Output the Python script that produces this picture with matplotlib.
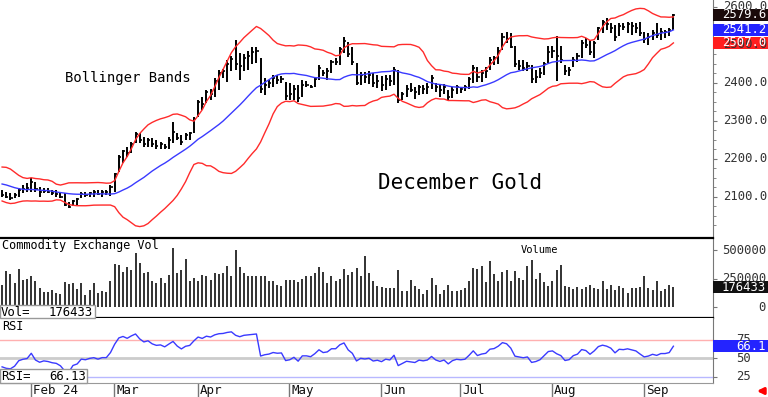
import numpy as np
import pandas as pd
import matplotlib
matplotlib.use("Agg")
import matplotlib.pyplot as plt
import matplotlib.transforms as mtransforms
from matplotlib.patches import Rectangle

plt.rcParams['font.family'] = 'DejaVu Sans Mono'

# December gold, daily bars from Jan 23 to Sep 12 2024
highs = [2118, 2114, 2110, 2110, 2123, 2132, 2136, 2149, 2140, 2127,
         2123, 2123, 2118, 2118, 2114, 2110, 2088, 2092, 2096, 2114,
         2114, 2114, 2118, 2118, 2118, 2118, 2132, 2163, 2211, 2224,
         2232, 2245, 2271, 2268, 2258, 2255, 2255, 2250, 2245, 2240,
         2258, 2297, 2268, 2262, 2268, 2271, 2310, 2355, 2363, 2382,
         2384, 2413, 2434, 2437, 2460, 2470, 2513, 2479, 2476, 2484,
         2495, 2495, 2466, 2413, 2408, 2421, 2421, 2418, 2403, 2400,
         2395, 2395, 2408, 2405, 2395, 2416, 2447, 2434, 2439, 2460,
         2466, 2495, 2521, 2508, 2495, 2453, 2428, 2428, 2430, 2425,
         2421, 2418, 2421, 2421, 2442, 2434, 2376, 2395, 2400, 2389,
         2395, 2395, 2400, 2421, 2400, 2395, 2397, 2381, 2389, 2395,
         2389, 2395, 2416, 2447, 2442, 2434, 2442, 2468, 2471, 2495,
         2530, 2535, 2531, 2496, 2461, 2461, 2456, 2447, 2434, 2439,
         2456, 2496, 2496, 2522, 2496, 2447, 2443, 2469, 2478, 2513,
         2518, 2513, 2509, 2548, 2566, 2570, 2557, 2553, 2557, 2557,
         2561, 2561, 2557, 2561, 2535, 2531, 2540, 2557, 2544, 2540,
         2544, 2580]
lows = [2101, 2096, 2092, 2096, 2101, 2110, 2114, 2114, 2114, 2101,
        2110, 2110, 2105, 2101, 2096, 2075, 2070, 2075, 2079, 2096,
        2101, 2101, 2101, 2105, 2101, 2105, 2103, 2113, 2166, 2190,
        2205, 2216, 2242, 2242, 2232, 2232, 2232, 2226, 2226, 2226,
        2226, 2242, 2250, 2237, 2250, 2250, 2268, 2310, 2329, 2347,
        2355, 2363, 2382, 2413, 2403, 2430, 2434, 2408, 2430, 2434,
        2450, 2453, 2374, 2368, 2387, 2389, 2397, 2400, 2355, 2355,
        2355, 2350, 2363, 2389, 2387, 2389, 2408, 2418, 2408, 2426,
        2447, 2447, 2479, 2468, 2448, 2395, 2395, 2400, 2397, 2390,
        2387, 2379, 2382, 2392, 2395, 2347, 2355, 2363, 2376, 2358,
        2368, 2371, 2371, 2384, 2376, 2363, 2371, 2355, 2360, 2371,
        2374, 2379, 2384, 2400, 2403, 2403, 2413, 2434, 2447, 2450,
        2487, 2504, 2491, 2443, 2434, 2430, 2430, 2399, 2399, 2412,
        2421, 2452, 2465, 2404, 2452, 2421, 2417, 2443, 2456, 2465,
        2491, 2474, 2465, 2513, 2531, 2540, 2531, 2509, 2522, 2540,
        2531, 2526, 2531, 2522, 2504, 2500, 2513, 2518, 2513, 2518,
        2522, 2540]
closes = [2106, 2100, 2098, 2104, 2118, 2122, 2124, 2140, 2120, 2112,
          2116, 2114, 2110, 2108, 2100, 2080, 2074, 2090, 2094, 2108,
          2106, 2110, 2112, 2108, 2112, 2112, 2126, 2160, 2205, 2220,
          2215, 2240, 2265, 2250, 2240, 2250, 2240, 2235, 2238, 2232,
          2250, 2270, 2255, 2245, 2262, 2268, 2305, 2350, 2345, 2375,
          2372, 2405, 2425, 2430, 2450, 2462, 2450, 2445, 2465, 2472,
          2480, 2485, 2385, 2395, 2400, 2412, 2408, 2410, 2365, 2370,
          2385, 2360, 2395, 2395, 2390, 2410, 2440, 2425, 2430, 2455,
          2455, 2490, 2510, 2475, 2455, 2400, 2420, 2415, 2420, 2400,
          2405, 2395, 2410, 2405, 2435, 2355, 2370, 2385, 2380, 2375,
          2390, 2385, 2390, 2412, 2390, 2380, 2388, 2362, 2380, 2388,
          2385, 2388, 2410, 2440, 2415, 2425, 2430, 2460, 2465, 2485,
          2520, 2515, 2495, 2450, 2445, 2440, 2445, 2410, 2415, 2425,
          2450, 2480, 2485, 2470, 2460, 2430, 2435, 2460, 2470, 2505,
          2500, 2480, 2505, 2545, 2560, 2555, 2545, 2520, 2550, 2548,
          2555, 2550, 2545, 2530, 2515, 2520, 2530, 2525, 2535, 2535,
          2540, 2579.6]
# closes before the visible window (estimated from where the bands and RSI start)
prior_closes = [2150, 2168, 2176, 2170, 2158, 2140, 2128, 2138, 2128, 2136,
                2124, 2140, 2150, 2130, 2112, 2100, 2110, 2104, 2112]
volume = [199000, 316000, 293000, 214000, 337000, 243000, 249000, 272000, 234000, 170000,
          132000, 138000, 149000, 126000, 120000, 223000, 208000, 214000, 164000, 214000,
          111000, 149000, 214000, 126000, 146000, 132000, 234000, 380000, 375000, 307000,
          354000, 331000, 477000, 389000, 302000, 307000, 228000, 214000, 258000, 214000,
          287000, 521000, 302000, 331000, 424000, 228000, 258000, 228000, 287000, 272000,
          243000, 302000, 296000, 302000, 366000, 278000, 506000, 351000, 302000, 278000,
          278000, 278000, 278000, 278000, 228000, 234000, 199000, 190000, 243000, 243000,
          243000, 219000, 249000, 278000, 278000, 302000, 354000, 307000, 214000, 278000,
          228000, 249000, 337000, 287000, 307000, 346000, 272000, 454000, 302000, 228000,
          184000, 179000, 170000, 170000, 170000, 325000, 146000, 146000, 243000, 184000,
          161000, 120000, 155000, 258000, 199000, 117000, 149000, 199000, 146000, 140000,
          155000, 170000, 228000, 346000, 337000, 360000, 219000, 404000, 296000, 228000,
          307000, 325000, 228000, 316000, 258000, 237000, 366000, 418000, 249000, 302000,
          219000, 190000, 234000, 331000, 375000, 190000, 179000, 161000, 179000, 161000,
          179000, 199000, 170000, 161000, 228000, 161000, 199000, 149000, 184000, 170000,
          126000, 170000, 170000, 176000, 278000, 170000, 155000, 234000, 140000, 161000,
          199000, 176433]
month_labels = ["Feb 24", "Mar", "Apr", "May", "Jun", "Jul", "Aug", "Sep"]
month_starts = [7, 27, 47, 69, 91, 110, 132, 154]
price_ticks = [2100, 2200, 2300, 2400, 2500, 2600]
vol_ticks = [0, 250000, 500000]
rsi_ticks = [25, 50, 75]

x = np.arange(len(closes))
n = len(closes)

# indicators: 20-day Bollinger bands and 14-day RSI
s = pd.Series(prior_closes + closes, dtype=float)
mid = s.rolling(20).mean().values[-n:]
sd = s.rolling(20).std(ddof=0).values[-n:]
upper = mid + 2 * sd
lower = mid - 2 * sd
d = s.diff().fillna(0)
g = d.clip(lower=0).ewm(alpha=1 / 14, adjust=False).mean()
l = (-d.clip(upper=0)).ewm(alpha=1 / 14, adjust=False).mean()
rsi = (100 - 100 / (1 + g / l)).values[-n:]

W, H = 768, 397
fig = plt.figure(figsize=(W / 100, H / 100), dpi=100)
ax_p = fig.add_axes([0, 1 - 238 / H, 713 / W, 238 / H])
ax_v = fig.add_axes([0, 1 - 318 / H, 713 / W, 80 / H])
ax_r = fig.add_axes([0, 1 - 383 / H, 713 / W, 65 / H])

xlim = (-0.5, 170.5)
for ax in (ax_p, ax_v, ax_r):
    ax.set_xlim(*xlim)
    ax.set_xticks([])
    for side in ("left", "top", "bottom"):
        ax.spines[side].set_visible(False)
    ax.spines["right"].set_color("#777777")
    ax.yaxis.tick_right()
    ax.tick_params(axis="y", which="both", labelright=False, length=3,
                   color="#777777", direction="out")

# price panel
ax_p.set_ylim(1992, 2618)
ax_p.vlines(x, lows, highs, color="black", lw=1.4)
ax_p.hlines(closes, x, x + 0.5, color="black", lw=1.2)
ax_p.plot(x, upper, color="#ff2b2b", lw=1.0)
ax_p.plot(x, lower, color="#ff2b2b", lw=1.0)
ax_p.plot(x, mid, color="#3a3aff", lw=1.0)
ax_p.set_yticks(price_ticks)
ax_p.set_yticks(np.arange(2025, 2618, 25), minor=True)
ax_p.tick_params(axis="y", which="minor", length=2)

# volume panel
ax_v.set_ylim(-93000, 609000)
ax_v.vlines(x, 0, volume, color="#222222", lw=1.3)
ax_v.spines["top"].set_visible(True)
ax_v.spines["bottom"].set_visible(True)
ax_v.spines["top"].set_linewidth(1.6)
ax_v.spines["bottom"].set_linewidth(1.6)
ax_v.set_yticks(vol_ticks)

# RSI panel
ax_r.set_ylim(16.3, 105)
ax_r.axhline(75, color="#ffb0b0", lw=1.0)
ax_r.axhline(50, color="#cccccc", lw=2.0)
ax_r.axhline(25, color="#b8b8ff", lw=1.0)
ax_r.plot(x, rsi, color="#3a3aff", lw=1.0)
ax_r.spines["bottom"].set_visible(True)
ax_r.spines["bottom"].set_color("#999999")
ax_r.set_yticks(rsi_ticks)

# month separators and labels under the RSI panel
trans = mtransforms.blended_transform_factory(ax_r.transData, ax_r.transAxes)
ax_r.vlines(np.array(month_starts) - 0.1, -0.22, 0, transform=trans,
            color="#777777", lw=1.0, clip_on=False)
for m, lab in zip(month_starts, month_labels):
    ax_r.text(m + 0.4, -0.11, lab, transform=trans, fontsize=9,
              va="center", ha="left", color="#111111")


def fy(ax, v):
    return fig.transFigure.inverted().transform(ax.transData.transform((0, v)))[1]


# right-hand scale labels
for t in price_ticks:
    fig.text(767 / W, fy(ax_p, t), f"{t:.1f}", fontsize=8.8, ha="right",
             va="center", color="#333333")
for t in vol_ticks:
    fig.text(766 / W, fy(ax_v, t), f"{t}", fontsize=8.8, ha="right",
             va="center", color="#333333")
for t in rsi_ticks:
    fig.text(751 / W, fy(ax_r, t), f"{t}", fontsize=8.8, ha="right",
             va="center", color="#333333")


def value_box(ax, v, text, face):
    yc = fy(ax, v)
    fig.patches.append(Rectangle((713 / W, yc - 6 / H), 55 / W, 12 / H,
                                 transform=fig.transFigure, figure=fig,
                                 facecolor=face, edgecolor="none", zorder=3))
    fig.text(766 / W, yc, text, fontsize=8.8, ha="right", va="center",
             color="white", zorder=4)


value_box(ax_p, closes[-1], "2579.6", "#1a0a0a")
value_box(ax_p, mid[-1], "2541.2", "#2424ff")
value_box(ax_p, lower[-1], "2507.0", "#ff1e1e")
value_box(ax_v, volume[-1], "176433", "#111111")
value_box(ax_r, rsi[-1], "66.1", "#2424ff")

# panel titles and notes
fig.text(65 / W, 1 - 78 / H, "Bollinger Bands", fontsize=10, va="center")
fig.text(378 / W, 1 - 183 / H, "December Gold", fontsize=15, va="center")
fig.text(2 / W, 1 - 246 / H, "Commodity Exchange Vol", fontsize=8.6, va="center")
fig.text(539 / W, 1 - 250 / H, "Volume", fontsize=7.5, va="center", ha="center")
fig.text(2 / W, 1 - 326 / H, "RSI", fontsize=8.6, va="center")

# readout boxes
fig.patches.append(Rectangle((0, 1 - 318 / H), 95 / W, 13 / H,
                             transform=fig.transFigure, figure=fig,
                             facecolor="white", edgecolor="#999999", lw=1, zorder=3))
fig.text(1 / W, 1 - 312 / H, "Vol=", fontsize=8.8, va="center", zorder=4)
fig.text(93 / W, 1 - 312 / H, "176433", fontsize=8.8, va="center", ha="right", zorder=4)
fig.patches.append(Rectangle((0, 1 - 383 / H), 87 / W, 14 / H,
                             transform=fig.transFigure, figure=fig,
                             facecolor="white", edgecolor="#999999", lw=1, zorder=3))
fig.text(1 / W, 1 - 376 / H, "RSI=", fontsize=8.8, va="center", zorder=4)
fig.text(86 / W, 1 - 376 / H, "66.13", fontsize=8.8, va="center", ha="right", zorder=4)

# little red arrow in the corner
ax_r.annotate("", xy=(754 / W, 1 - 391 / H), xytext=(767 / W, 1 - 391 / H),
              xycoords="figure fraction", textcoords="figure fraction",
              arrowprops=dict(arrowstyle="-|>", color="red", lw=2.2,
                              mutation_scale=9))

fig.savefig("out.png", dpi=100)
